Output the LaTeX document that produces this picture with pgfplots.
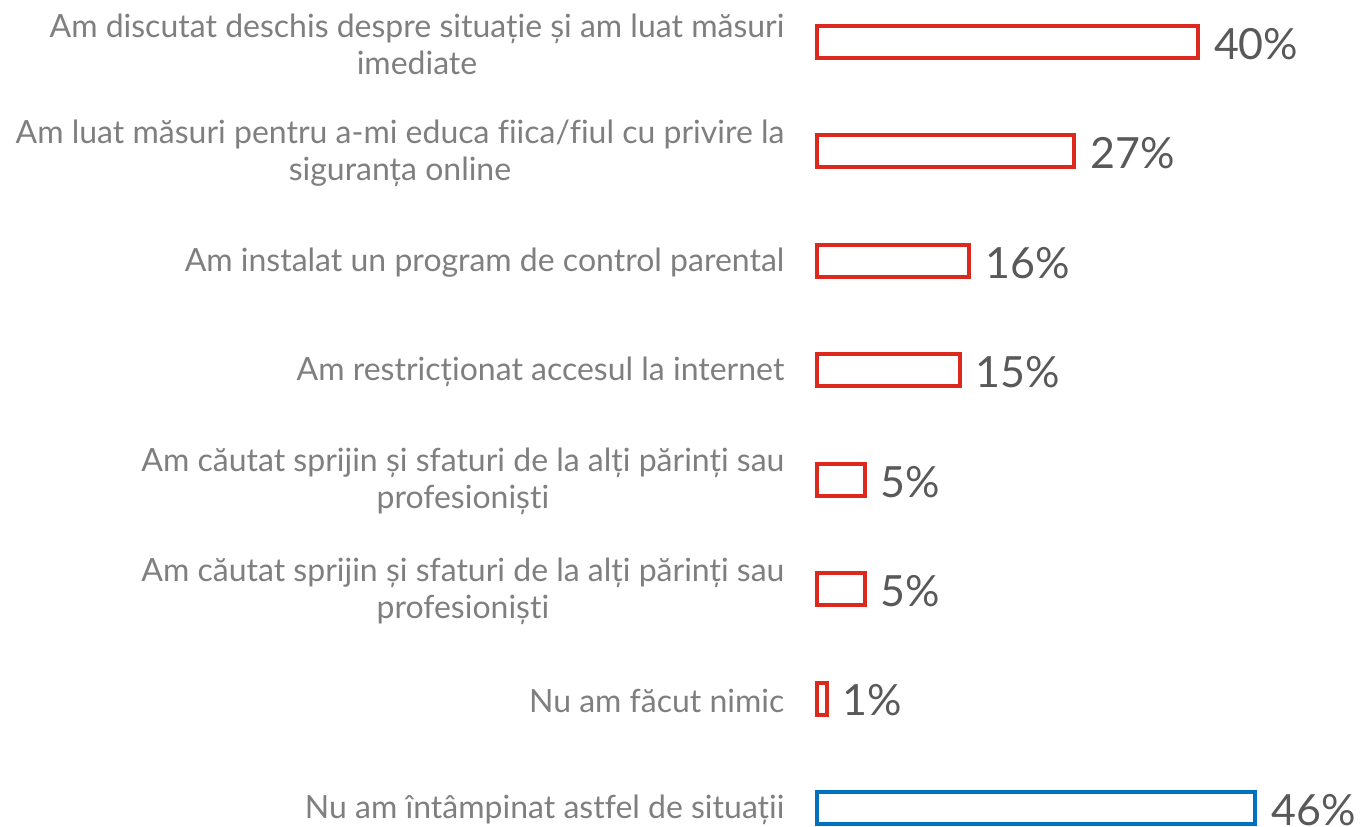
\documentclass[border=0pt]{standalone}
\usepackage{fontspec}
\setmainfont{Lato}[Ligatures={NoCommon}]
\usepackage{pgfplots}
\pgfplotsset{compat=1.18}
\definecolor{barred}{RGB}{220,41,30}
\definecolor{barblue}{RGB}{0,112,192}
\definecolor{lblgray}{RGB}{127,127,127}
\definecolor{valgray}{RGB}{89,89,89}

\begin{document}
\begin{tikzpicture}
\path[use as bounding box] (0,0) rectangle (682pt,413pt);
\begin{axis}[
  at={(408.5pt,419.36pt)}, anchor=north west,
  scale only axis,
  width=228.6pt, height=437.7pt,
  xbar, bar width=16pt, bar shift=0pt,
  xmin=0, xmax=48,
  ymin=-0.5, ymax=7.5,
  y dir=reverse,
  axis lines=left,
  axis line style={draw=none},
  xtick=\empty,
  ytick={0,1,2,3,4,5,6,7},
  ytick style={draw=none},
  yticklabels={
    {Am discutat deschis despre situație și am luat măsuri\\imediate},
    {Am luat măsuri pentru a-mi educa fiica/fiul cu privire la\\siguranța online},
    {Am instalat un program de control parental},
    {Am restricționat accesul la internet},
    {Am căutat sprijin și sfaturi de la alți părinți sau\\profesioniști},
    {Am căutat sprijin și sfaturi de la alți părinți sau\\profesioniști},
    {Nu am făcut nimic},
    {Nu am întâmpinat astfel de situații}},
  yticklabel style={font=\fontsize{16}{18.5}\selectfont, text=lblgray,
    align=center, anchor=east, inner sep=0pt, xshift=-14pt, yshift=-1pt},
  /pgf/number format/assume math mode=true,
  nodes near coords={\pgfmathprintnumber\pgfplotspointmeta\%},
  nodes near coords style={font=\fontsize{21.5}{24}\selectfont, text=valgray,
    anchor=west, inner sep=0pt, xshift=7pt, yshift=-1pt},
  point meta=x,
  clip=false,
]
\addplot[draw=barred, fill=white, line width=2pt] coordinates {
  (40,0) (27,1) (16,2) (15,3) (5,4) (5,5) (1,6)
};
\addplot[draw=barblue, fill=white, line width=2pt] coordinates {
  (46,7)
};
\end{axis}
\end{tikzpicture}
\end{document}
